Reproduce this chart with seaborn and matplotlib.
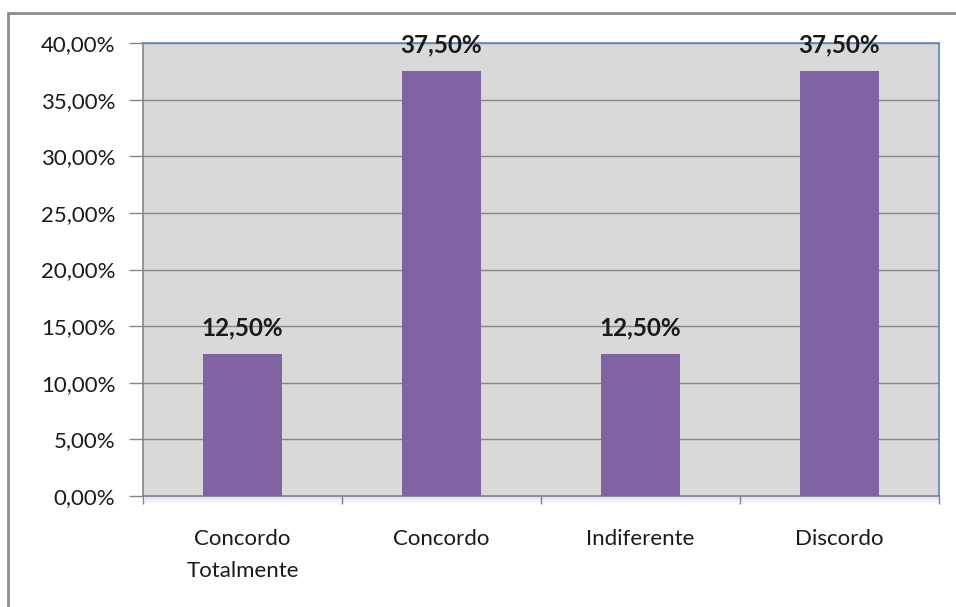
import matplotlib
matplotlib.use("Agg")
import matplotlib.pyplot as plt
import seaborn as sns
import pandas as pd
from matplotlib.ticker import MultipleLocator, FuncFormatter
from matplotlib.patches import Rectangle

categories = ["Concordo\nTotalmente", "Concordo", "Indiferente", "Discordo"]
values = [12.5, 37.5, 12.5, 37.5]

df = pd.DataFrame({"cat": categories, "val": values})

sns.set_theme(style="white")
plt.rcParams["font.family"] = ["Lato", "DejaVu Sans"]

W, H = 956, 607
fig = plt.figure(figsize=(W / 100, H / 100), dpi=100)
fig.patch.set_facecolor("white")

# outer chart border
fig.add_artist(Rectangle((8 / W, -0.01), 1.0, 1 - 13 / H + 0.01, transform=fig.transFigure,
                         fill=False, edgecolor="#8c8c8c", linewidth=2))

left, right, top, bottom = 143, 939, 43, 496

# faint purple shadow below plot area
for k in range(8):
    fig.add_artist(Rectangle(((left + 2) / W, 1 - (bottom + 1 + k) / H), (right - left - 2) / W, 1 / H,
                             transform=fig.transFigure, facecolor="#8064A2",
                             alpha=0.22 * (1 - k / 8), edgecolor="none"))

ax = fig.add_axes([left / W, 1 - bottom / H, (right - left) / W, (bottom - top) / H])
ax.set_facecolor("#D9D9D9")

sns.barplot(data=df, x="cat", y="val", ax=ax, color="#8064A2", width=0.4,
            saturation=1, edgecolor="none", zorder=3)

ax.set_ylim(0, 40)
ax.set_xlim(-0.5, 3.5)
ax.yaxis.set_major_locator(MultipleLocator(5))
ax.yaxis.set_major_formatter(FuncFormatter(lambda v, p: f"{v:.2f}".replace(".", ",") + "%"))
ax.grid(axis="y", color="#868686", linewidth=1, zorder=1)
ax.set_axisbelow(True)
ax.set_xlabel("")
ax.set_ylabel("")

# x ticks at category boundaries, labels centered
ax.set_xticks([-0.5, 0.5, 1.5, 2.5, 3.5])
ax.set_xticklabels([])
ax.set_xticks([0, 1, 2, 3], minor=True)
ax.set_xticklabels(categories, minor=True, fontsize=16, color="#1a1a1a", linespacing=1.75)
ax.tick_params(axis="x", which="major", bottom=True, direction="out", length=6, color="#868686", width=1)
ax.tick_params(axis="x", which="minor", length=0, pad=24)
ax.tick_params(axis="y", left=True, direction="out", length=10, color="#868686", width=1,
               labelsize=16, labelcolor="#1a1a1a", pad=10)

for s in ["left", "bottom"]:
    ax.spines[s].set_color("#868686")
    ax.spines[s].set_linewidth(1.2)
for s in ["top", "right"]:
    ax.spines[s].set_color("#5B85C0")
    ax.spines[s].set_linewidth(1.2)

for i, v in enumerate(values):
    ax.annotate(f"{v:.2f}".replace(".", ",") + "%", (i, v), xytext=(0, 11),
                textcoords="offset points", ha="center", va="bottom",
                fontsize=17.5, fontweight="bold", color="#1a1a1a", zorder=5,
                annotation_clip=False)

fig.savefig("out.png", dpi=100, facecolor="white")
